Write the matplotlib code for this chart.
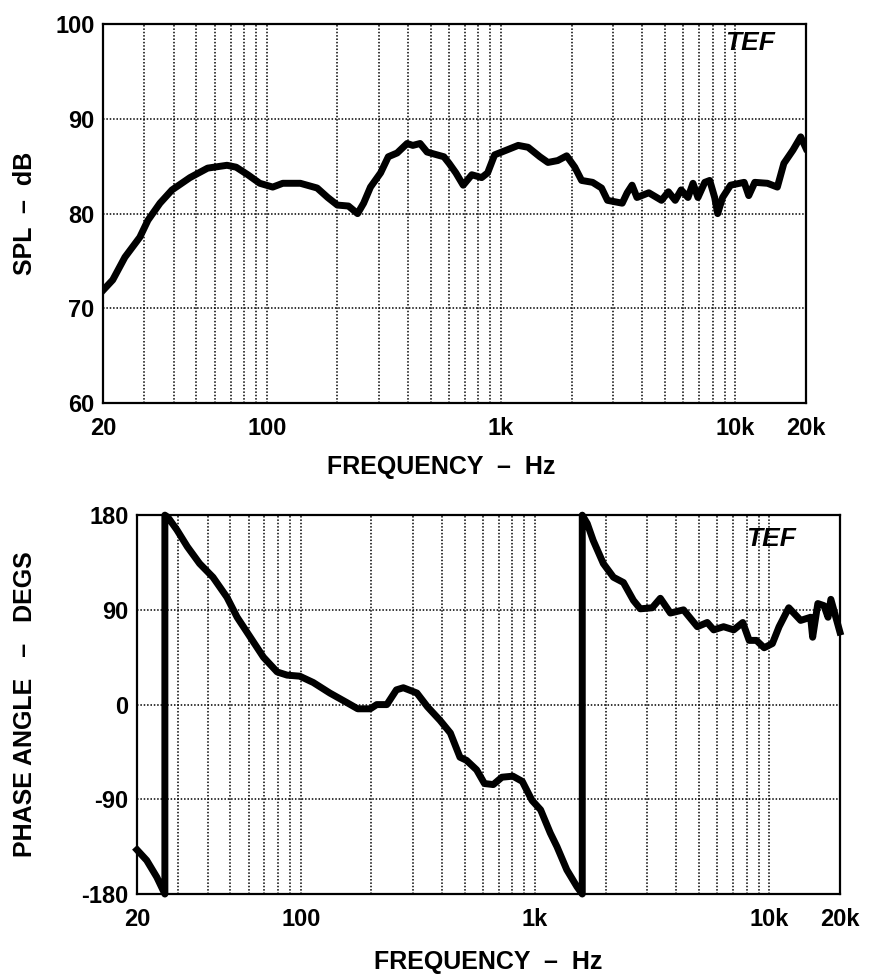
import numpy as np
import matplotlib
matplotlib.use('Agg')
import matplotlib.pyplot as plt
from matplotlib.ticker import NullFormatter

plt.rcParams['font.family'] = ['Liberation Sans', 'DejaVu Sans']
plt.rcParams['font.weight'] = 'bold'
plt.rcParams['axes.unicode_minus'] = False

# magnitude response (Hz, dB)
spl_freq = [20, 22, 24.8, 28.7, 31.1, 35, 39.4, 47, 55.9, 67.6, 74, 83, 93.3, 106, 117,
            139, 164, 182, 200, 223, 244, 259, 277, 306, 330, 360, 397, 420, 451, 483,
            533, 570, 600, 641, 689, 750, 826, 876, 938, 1054, 1183, 1304, 1464, 1585,
            1745, 1905, 2063, 2206, 2457, 2683, 2845, 3288, 3452, 3622, 3801, 4269, 4838,
            5175, 5535, 5866, 6275, 6591, 6920, 7401, 7770, 8157, 8400, 8818, 9532,
            10900, 11400, 12100, 13700, 15100, 16100, 17600, 19000, 20000]
spl_db = [71.9, 73.0, 75.4, 77.5, 79.3, 81.1, 82.5, 83.8, 84.8, 85.1, 84.9, 84.1, 83.2, 82.8, 83.2,
          83.2, 82.7, 81.7, 80.9, 80.8, 80.0, 81.1, 82.8, 84.3, 86.0, 86.4, 87.4, 87.2, 87.4, 86.5,
          86.2, 86.0, 85.3, 84.3, 83.0, 84.1, 83.8, 84.3, 86.2, 86.7, 87.2, 87.0, 86.0, 85.4,
          85.6, 86.1, 84.9, 83.5, 83.3, 82.7, 81.4, 81.1, 82.2, 83.0, 81.7, 82.2, 81.4,
          82.3, 81.4, 82.5, 81.7, 83.2, 81.7, 83.3, 83.5, 81.7, 80.0, 81.7, 83.0,
          83.3, 81.9, 83.3, 83.2, 82.8, 85.3, 86.7, 88.1, 86.9]

# phase response (Hz, degrees), wraps at +/-180
ph_freq = [20, 22, 24.3, 26.3, 26.3, 27.1, 29.6, 32.8, 37, 42.2, 48.4, 53.5, 60.9, 69.3, 79.3,
           87.4, 99, 113, 133, 157, 175, 198, 211, 233, 256, 274, 313, 347, 393, 435,
           478, 510, 563, 608, 663, 722, 804, 882, 970, 1056, 1161, 1240, 1366, 1509, 1590,
           1590, 1670, 1770, 1956, 2160, 2383, 2629, 2812, 3162, 3425, 3780, 4300, 4927,
           5430, 5785, 6376, 7045, 7700, 8200, 8800, 9500, 10300, 11000, 12100, 13600,
           15000, 15300, 16100, 17100, 17800, 18300, 20000]
ph_deg = [-138, -148, -164, -180, 180, 178, 166, 150, 134, 121, 102, 83, 64, 45, 31,
          28, 27, 21, 11, 2, -4, -4, 0, 0, 14, 16, 11, -2, -15, -27,
          -50, -53, -62, -75, -76, -69, -68, -73, -91, -100, -122, -135, -157, -173, -180,
          180, 172, 156, 134, 121, 116, 99, 91, 92, 101, 87, 90, 74,
          78, 71, 74, 71, 78, 61, 61, 54, 58, 74, 92, 80,
          83, 64, 96, 94, 83, 100, 69]

xticks = [20, 100, 1000, 10000, 20000]
xticklabels = ['20', '100', '1k', '10k', '20k']
grid_x = [m * d for d in [10, 100, 1000, 10000] for m in range(1, 10)] + [20000]
grid_x = [g for g in grid_x if 20 <= g <= 20000]

fig = plt.figure(figsize=(8.71, 9.74), dpi=100)
ax1 = fig.add_axes([0.1183, 0.5862, 0.807, 0.389])
ax2 = fig.add_axes([0.1573, 0.0821, 0.807, 0.389])

def style(ax, yticks, ylabel, ylab_x, xlab_x, xlab_y, tef_xy):
    ax.set_xscale('log')
    ax.set_xlim(20, 20000)
    ax.set_xticks(xticks)
    ax.set_xticklabels(xticklabels)
    ax.xaxis.set_minor_formatter(NullFormatter())
    ax.set_yticks(yticks)
    ax.set_ylim(yticks[0], yticks[-1])
    for g in grid_x:
        ax.axvline(g, color='black', lw=1.1, ls=(0, (1, 1.2)), zorder=1)
    for y in yticks:
        ax.axhline(y, color='black', lw=1.1, ls=(0, (1, 1.2)), zorder=1)
    ax.tick_params(which='both', length=0, labelsize=17)
    ax.tick_params(axis='x', pad=10)
    ax.tick_params(axis='y', pad=6)
    for lab in ax.get_xticklabels() + ax.get_yticklabels():
        lab.set_fontweight('bold')
    for s in ax.spines.values():
        s.set_linewidth(1.6)
    ax.set_xlabel('FREQUENCY  –  Hz', fontsize=18, fontweight='bold')
    ax.xaxis.set_label_coords(xlab_x, xlab_y)
    ax.set_ylabel(ylabel, fontsize=18, fontweight='bold')
    ax.yaxis.set_label_coords(ylab_x, 0.5)
    ax.text(tef_xy[0], tef_xy[1], 'TEF', transform=ax.transAxes, fontsize=19,
            fontweight='bold', style='italic', ha='left', va='top')

ax1.plot(spl_freq, spl_db, color='black', lw=5, solid_joinstyle='round', zorder=3)
style(ax1, [60, 70, 80, 90, 100], 'SPL  –  dB', -0.094, 0.4815, -0.137, (0.885, 0.982))

ax2.plot(ph_freq, ph_deg, color='black', lw=5, solid_joinstyle='round', zorder=3, clip_on=False)
style(ax2, [-180, -90, 0, 90, 180], 'PHASE ANGLE   –   DEGS', -0.142, 0.5, -0.148, (0.866, 0.97))

fig.savefig('out.png', dpi=100)
